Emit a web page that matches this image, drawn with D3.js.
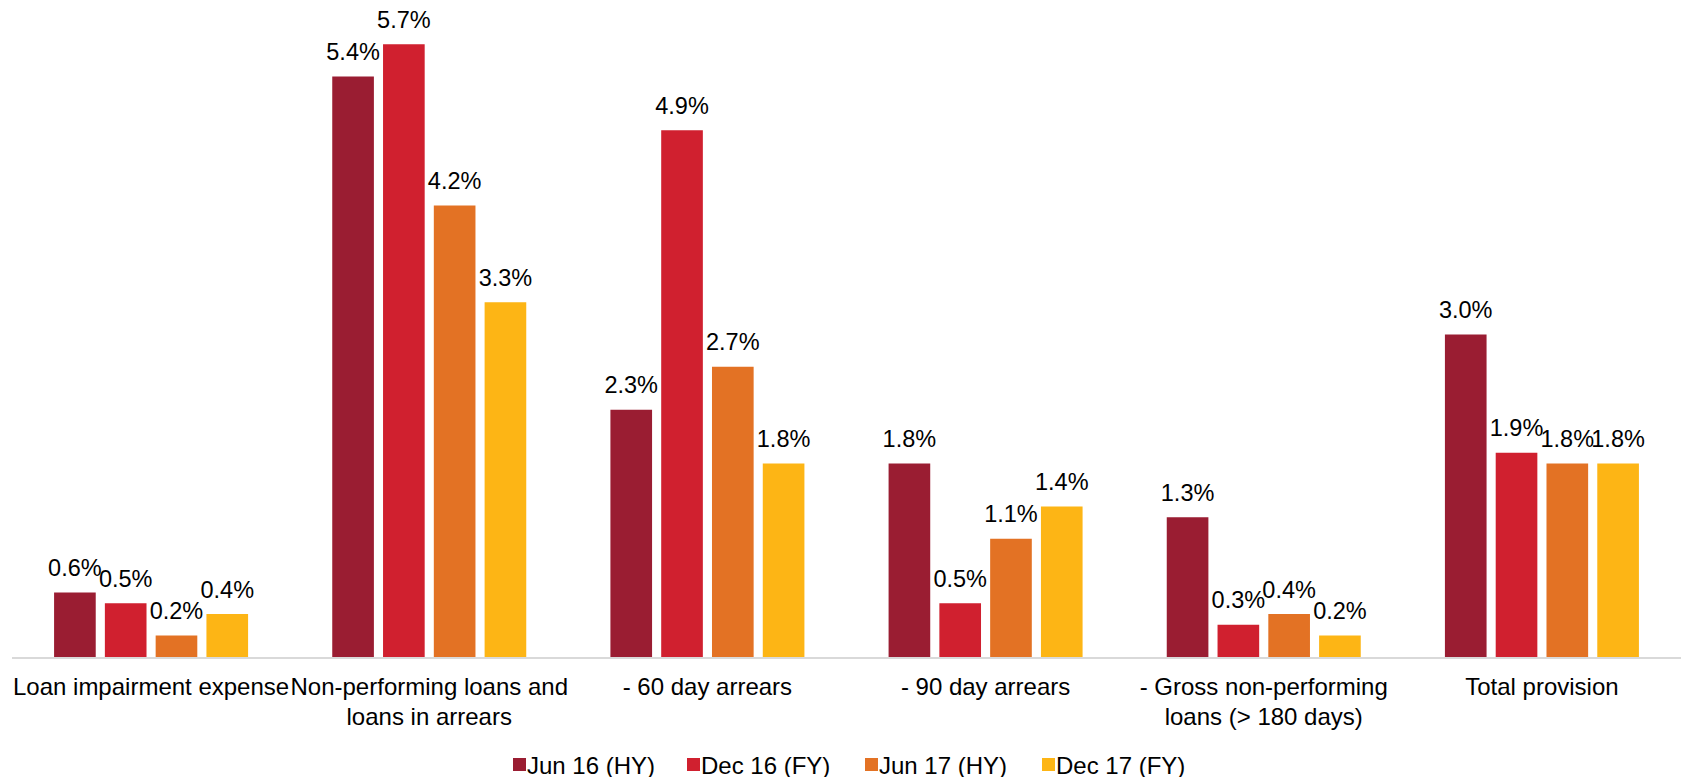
<!DOCTYPE html>
<html>
<head>
<meta charset="utf-8">
<script src="https://cdn.jsdelivr.net/npm/d3@7"></script>
<style>
  html, body { margin: 0; padding: 0; background: #fff; }
  svg { display: block; font-family: "Liberation Sans", Arial, sans-serif; }
</style>
</head>
<body>
<svg id="chart" width="1683" height="777"></svg>
<script>
// Categories (multi-line labels split by "\n")
const categories = [
  "Loan impairment expense",
  "Non-performing loans and\nloans in arrears",
  "- 60 day arrears",
  "- 90 day arrears",
  "- Gross non-performing\nloans (> 180 days)",
  "Total provision"
];

// Reporting periods
const series = ["Jun 16 (HY)", "Dec 16 (FY)", "Jun 17 (HY)", "Dec 17 (FY)"];
const seriesColors = ["#9A1D32", "#D0202F", "#E37224", "#FDB515"];

// Ratios in percent, one array per period
const jun16 = [0.6, 5.4, 2.3, 1.8, 1.3, 3.0];
const dec16 = [0.5, 5.7, 4.9, 0.5, 0.3, 1.9];
const jun17 = [0.2, 4.2, 2.7, 1.1, 0.4, 1.8];
const dec17 = [0.4, 3.3, 1.8, 1.4, 0.2, 1.8];

const seriesValues = [jun16, dec16, jun17, dec17];

const svg = d3.select("#chart");
const plot = { left: 12, right: 1681, top: 12, bottom: 657 };

const x0 = d3.scaleBand()
  .domain(categories)
  .range([plot.left, plot.right])
  .padding(0);

const groupWidth = 194;
const x1 = d3.scaleBand()
  .domain(series)
  .range([(x0.bandwidth() - groupWidth) / 2, (x0.bandwidth() + groupWidth) / 2])
  .paddingInner(0.18);

const y = d3.scaleLinear()
  .domain([0, 6])
  .range([plot.bottom, plot.top]);

const color = d3.scaleOrdinal().domain(series).range(seriesColors);

const rows = [];
categories.forEach((c, ci) => {
  series.forEach((s, si) => {
    rows.push({ category: c, series: s, value: seriesValues[si][ci] });
  });
});

// Bars
svg.append("g")
  .selectAll("rect")
  .data(rows)
  .join("rect")
  .attr("x", d => x0(d.category) + x1(d.series))
  .attr("y", d => y(d.value))
  .attr("width", x1.bandwidth())
  .attr("height", d => y(0) - y(d.value))
  .attr("fill", d => color(d.series));

// Value labels
svg.append("g")
  .selectAll("text")
  .data(rows)
  .join("text")
  .attr("x", d => x0(d.category) + x1(d.series) + x1.bandwidth() / 2)
  .attr("y", d => y(d.value) - 16.5)
  .attr("text-anchor", "middle")
  .attr("font-size", 23.5)
  .attr("fill", "#000")
  .text(d => d3.format(".1f")(d.value) + "%");

// Category axis baseline
svg.append("line")
  .attr("x1", plot.left)
  .attr("x2", plot.right)
  .attr("y1", y(0) + 1)
  .attr("y2", y(0) + 1)
  .attr("stroke", "#d9d9d9")
  .attr("stroke-width", 2);

// Category labels
const catLabels = svg.append("g")
  .selectAll("text")
  .data(categories)
  .join("text")
  .attr("x", d => x0(d) + x0.bandwidth() / 2)
  .attr("y", 695)
  .attr("text-anchor", "middle")
  .attr("font-size", 24)
  .attr("fill", "#000");

catLabels.each(function(d) {
  const t = d3.select(this);
  d.split("\n").forEach((line, i) => {
    t.append("tspan")
      .attr("x", x0(d) + x0.bandwidth() / 2)
      .attr("dy", i === 0 ? 0 : 30)
      .text(line);
  });
});

// Legend
const legendX = [513, 687, 865, 1042];
const legend = svg.append("g")
  .selectAll("g")
  .data(series)
  .join("g")
  .attr("transform", (d, i) => `translate(${legendX[i]},765)`);

legend.append("rect")
  .attr("x", 0)
  .attr("y", -7)
  .attr("width", 13)
  .attr("height", 13)
  .attr("fill", d => color(d));

legend.append("text")
  .attr("x", 14)
  .attr("y", 8.5)
  .attr("font-size", 24)
  .attr("fill", "#000")
  .text(d => d);
</script>
</body>
</html>
